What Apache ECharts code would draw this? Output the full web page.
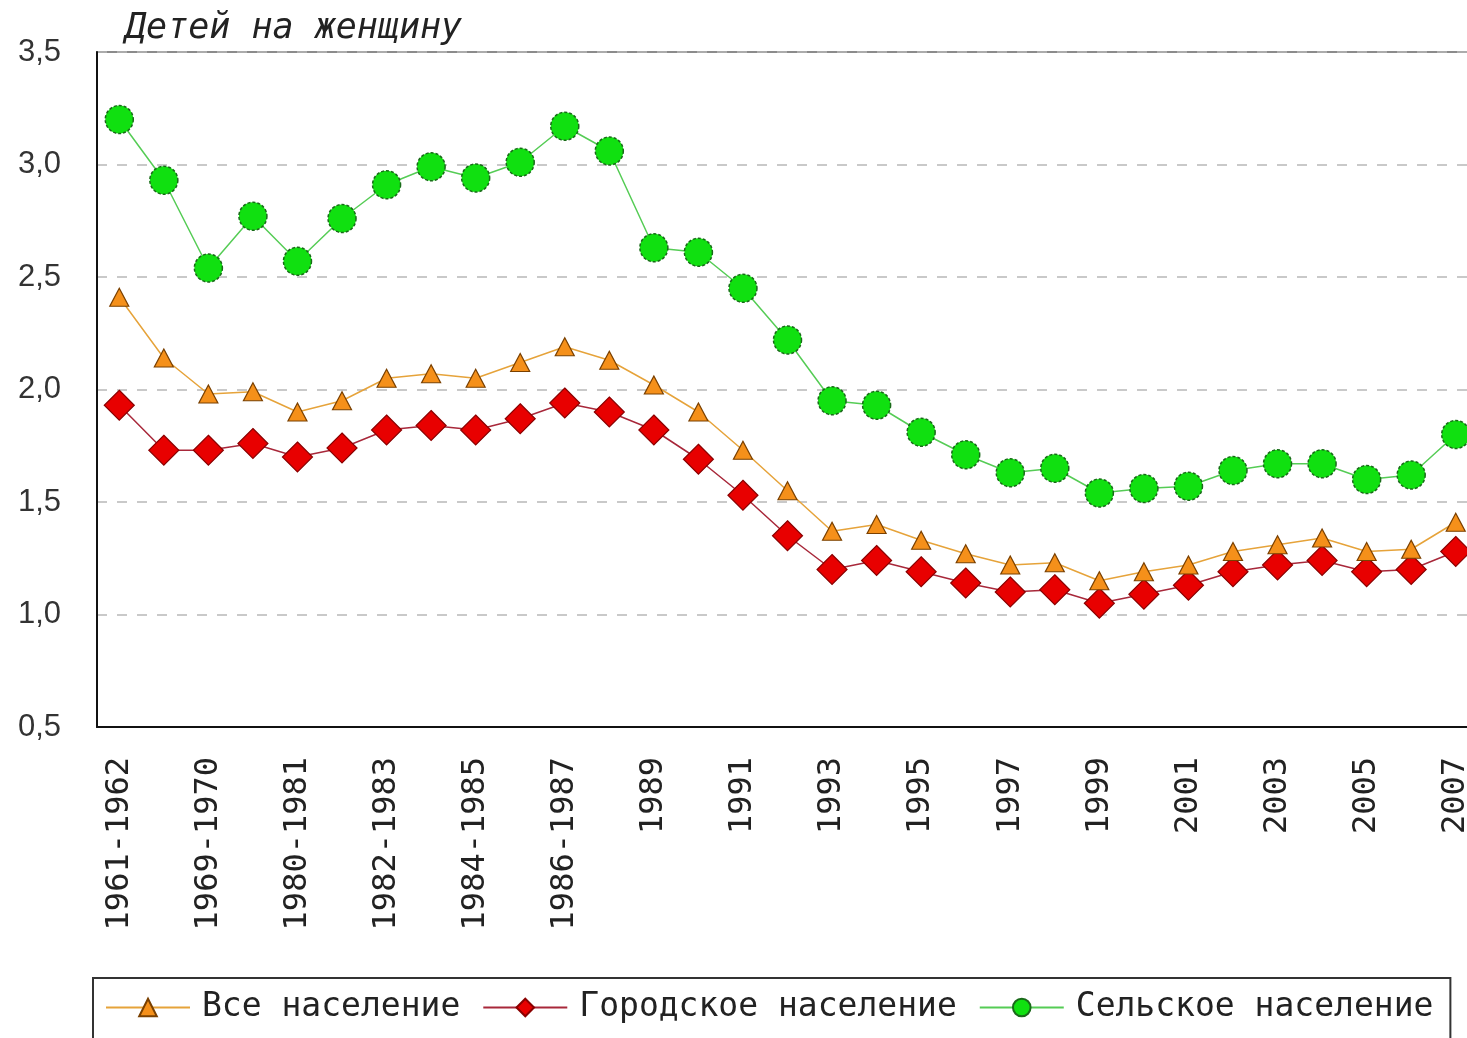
<!DOCTYPE html>
<html>
<head>
<meta charset="utf-8">
<script src="https://cdn.jsdelivr.net/npm/echarts@6/dist/echarts.min.js"></script>
<style>
  html, body { margin: 0; padding: 0; background: #fff; }
  #chart { width: 1467px; height: 1038px; }
</style>
</head>
<body>
<div id="chart"></div>
<script>
// периоды (подписи видны через одну)
var periods = ['1961-1962', '1966-1967', '1969-1970', '1978-1979', '1980-1981', '1981-1982',
    '1982-1983', '1983-1984', '1984-1985', '1985-1986', '1986-1987', '1988', '1989', '1990',
    '1991', '1992', '1993', '1994', '1995', '1996', '1997', '1998', '1999', '2000', '2001',
    '2002', '2003', '2004', '2005', '2006', '2007'];

var allPop = [2.41, 2.14, 1.98, 1.99, 1.90, 1.95, 2.05, 2.07, 2.05, 2.12, 2.19, 2.13, 2.02, 1.90,
    1.73, 1.55, 1.37, 1.40, 1.33, 1.27, 1.22, 1.23, 1.15, 1.19, 1.22, 1.28, 1.31, 1.34, 1.28, 1.29, 1.41];

var urbanPop = [1.93, 1.73, 1.73, 1.76, 1.70, 1.74, 1.82, 1.84, 1.82, 1.87, 1.94, 1.90, 1.82, 1.69,
    1.53, 1.35, 1.20, 1.24, 1.19, 1.14, 1.10, 1.11, 1.05, 1.09, 1.13, 1.19, 1.22, 1.24, 1.19, 1.20, 1.28];

var ruralPop = [3.20, 2.93, 2.54, 2.77, 2.57, 2.76, 2.91, 2.99, 2.94, 3.01, 3.17, 3.06, 2.63, 2.61,
    2.45, 2.22, 1.95, 1.93, 1.81, 1.71, 1.63, 1.65, 1.54, 1.56, 1.57, 1.64, 1.67, 1.67, 1.60, 1.62, 1.80];

var seriesNames = ['Все население', 'Городское население', 'Сельское население'];

var myChart = echarts.init(document.getElementById('chart'));

var labelFont = 'DejaVu Sans Mono';

option = {
    animation: false,
    title: {
        text: 'Детей на женщину',
        left: 120,
        top: 6,
        textStyle: {
            fontFamily: labelFont,
            fontStyle: 'italic',
            fontWeight: 'normal',
            fontSize: 35,
            color: '#222'
        }
    },
    legend: {
        data: seriesNames,
        left: 93,
        top: 978,
        padding: [13, 17, 40, 12],
        itemGap: 22,
        itemWidth: 84,
        itemHeight: 22,
        borderColor: '#333',
        borderWidth: 2,
        textStyle: {
            fontFamily: labelFont,
            fontSize: 33,
            color: '#222',
            padding: [0, 0, 0, 7]
        }
    },
    grid: {
        left: 97,
        top: 52,
        width: 1381,
        height: 675,
        outerBoundsMode: 'none',
        containLabel: false,
        show: true,
        borderColor: '#666',
        borderWidth: 1.5
    },
    xAxis: {
        type: 'category',
        data: periods,
        boundaryGap: true,
        axisLine: { lineStyle: { color: '#111', width: 2 } },
        axisTick: { show: false },
        axisLabel: {
            interval: 1,
            rotate: 90,
            margin: 30,
            fontFamily: labelFont,
            fontSize: 32,
            color: '#222'
        }
    },
    yAxis: {
        type: 'value',
        min: 0.5,
        max: 3.5,
        interval: 0.5,
        axisLine: { show: true, lineStyle: { color: '#111', width: 2 } },
        axisTick: { show: false },
        axisLabel: {
            margin: 36,
            fontFamily: 'Liberation Sans',
            fontSize: 31,
            color: '#333',
            formatter: function (v) {
                return v.toFixed(1).replace('.', ',');
            }
        },
        splitLine: {
            show: true,
            lineStyle: { color: '#b8b8b8', type: [10, 10], width: 1.5 }
        }
    },
    series: [
        {
            name: seriesNames[0],
            type: 'line',
            data: allPop,
            symbol: 'triangle',
            symbolSize: [19, 18],
            showAllSymbol: true,
            lineStyle: { color: '#e6a33a', width: 1.5 },
            itemStyle: { color: '#f5901a', borderColor: '#7a4000', borderWidth: 1.2 },
            z: 3
        },
        {
            name: seriesNames[1],
            type: 'line',
            data: urbanPop,
            symbol: 'diamond',
            symbolSize: [30, 30],
            showAllSymbol: true,
            lineStyle: { color: '#a8283a', width: 1.5 },
            itemStyle: { color: '#e80000', borderColor: '#8a0000', borderWidth: 1.2 },
            z: 2
        },
        {
            name: seriesNames[2],
            type: 'line',
            data: ruralPop,
            symbol: 'circle',
            symbolSize: 28,
            showAllSymbol: true,
            lineStyle: { color: '#55cc55', width: 1.5 },
            itemStyle: { color: '#10e010', borderColor: '#1a6a1a', borderWidth: 1.5, borderType: [3, 2] },
            z: 4
        }
    ]
};

myChart.setOption(option);
</script>
</body>
</html>
